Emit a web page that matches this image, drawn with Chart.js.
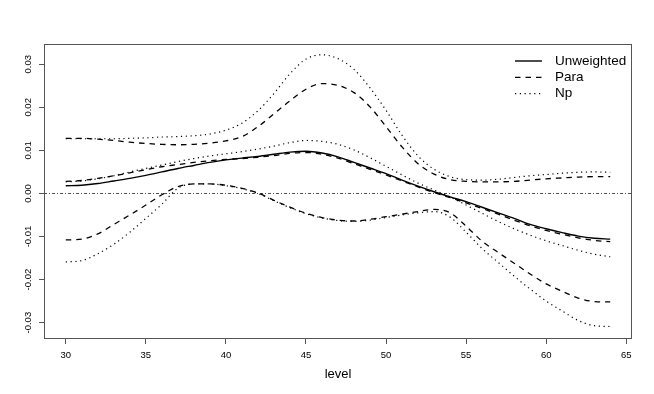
<!DOCTYPE html>
<html lang="en">
<head>
  <meta charset="UTF-8">
  <title>level</title>
  <script src="https://cdn.jsdelivr.net/npm/chart.js"></script>
  <style>
    body { margin: 0; background: #fff; }
  </style>
</head>
<body>
  <canvas id="levelChart" width="654" height="394"></canvas>

  <script>
    const levels = [30, 31, 32, 33, 34, 35, 36, 37, 38, 39, 40, 41, 42, 43, 44, 45, 46,
      47, 48, 49, 50, 51, 52, 53, 54, 55, 56, 57, 58, 59, 60, 61, 62, 63, 64];

    const unweighted = [0.0018, 0.0019, 0.0023, 0.0029, 0.0035, 0.0042, 0.0050, 0.0058, 0.0065, 0.0072,
      0.0078, 0.0082, 0.0086, 0.0091, 0.0096, 0.0098, 0.0094, 0.0085, 0.0072, 0.0059,
      0.0046, 0.0031, 0.0017, 0.0004, -0.0008, -0.0019, -0.0032, -0.0045, -0.0058, -0.0072,
      -0.0082, -0.0091, -0.0099, -0.0104, -0.0106];

    const paraMid = [0.0028, 0.0030, 0.0035, 0.0041, 0.0048, 0.0055, 0.0062, 0.0067, 0.0072, 0.0076,
      0.0079, 0.0081, 0.0084, 0.0088, 0.0093, 0.0095, 0.0091, 0.0082, 0.0069, 0.0056,
      0.0043, 0.0029, 0.0015, 0.0002, -0.0010, -0.0022, -0.0035, -0.0048, -0.0062, -0.0075,
      -0.0086, -0.0095, -0.0103, -0.0109, -0.0112];
    const paraUpper = [0.0128, 0.0128, 0.0126, 0.0123, 0.0119, 0.0116, 0.0114, 0.0113, 0.0114, 0.0117,
      0.0122, 0.0132, 0.0155, 0.0185, 0.0215, 0.0242, 0.0255, 0.0251, 0.0234, 0.0201,
      0.0155, 0.0108, 0.0069, 0.0045, 0.0032, 0.0028, 0.0027, 0.0027, 0.0028, 0.0031,
      0.0034, 0.0036, 0.0038, 0.0039, 0.0039];
    const paraLower = [-0.0108, -0.0106, -0.0094, -0.0072, -0.0050, -0.0027, -0.0003, 0.0016, 0.0022, 0.0022,
      0.0019, 0.0012, 0.0001, -0.0016, -0.0032, -0.0046, -0.0056, -0.0062, -0.0064, -0.0060,
      -0.0054, -0.0048, -0.0042, -0.0037, -0.0045, -0.0076, -0.0111, -0.0137, -0.0162, -0.0187,
      -0.0210, -0.0227, -0.0243, -0.0251, -0.0252];

    const npMid = [0.0027, 0.0029, 0.0034, 0.0041, 0.0050, 0.0058, 0.0066, 0.0074, 0.0081, 0.0087,
      0.0092, 0.0097, 0.0103, 0.0110, 0.0118, 0.0123, 0.0121, 0.0114, 0.0101, 0.0083,
      0.0063, 0.0043, 0.0024, 0.0008, -0.0008, -0.0027, -0.0046, -0.0065, -0.0082, -0.0097,
      -0.0110, -0.0121, -0.0132, -0.0141, -0.0147];
    const npUpper = [0.0127, 0.0127, 0.0127, 0.0127, 0.0128, 0.0129, 0.0131, 0.0132, 0.0134, 0.0138,
      0.0147, 0.0163, 0.0192, 0.0232, 0.0278, 0.0312, 0.0322, 0.0313, 0.0288, 0.0245,
      0.0193, 0.0135, 0.0087, 0.0056, 0.0039, 0.0032, 0.0031, 0.0033, 0.0037, 0.0041,
      0.0044, 0.0047, 0.0049, 0.0050, 0.0049];
    const npLower = [-0.0159, -0.0156, -0.0140, -0.0118, -0.0090, -0.0058, -0.0025, 0.0012, 0.0022, 0.0022,
      0.0018, 0.0011, 0.0000, -0.0017, -0.0033, -0.0047, -0.0057, -0.0063, -0.0065, -0.0062,
      -0.0056, -0.0050, -0.0045, -0.0042, -0.0055, -0.0090, -0.0128, -0.0160, -0.0192, -0.0222,
      -0.0250, -0.0273, -0.0295, -0.0307, -0.0309];

    const xTicks = [30, 35, 40, 45, 50, 55, 60, 65];
    const yTicks = [-0.03, -0.02, -0.01, 0.00, 0.01, 0.02, 0.03];
    const seriesNames = ['Unweighted', 'Para', 'Np'];
    const refLevel = 0;

    const FONT = '"Liberation Sans", Arial, Helvetica, sans-serif';
    const DASH = { Unweighted: [], Para: [5.5, 5], Np: [1.2, 3.6] };
    const WIDTH = { Unweighted: 1.4, Para: 1.3, Np: 1.2 };

    function line(name, values) {
      return {
        label: name,
        data: levels.map((x, i) => ({ x: x, y: values[i] })),
        borderColor: '#000',
        borderWidth: WIDTH[name],
        borderDash: DASH[name],
        borderCapStyle: 'butt',
        pointRadius: 0,
        fill: false,
        tension: 0.4,
        cubicInterpolationMode: 'monotone'
      };
    }

    // box, zero reference line and the legend, drawn the way R's base graphics does
    const rStyle = {
      id: 'rStyle',
      beforeDatasetsDraw(chart) {
        const { ctx, chartArea: a, scales } = chart;
        const y = Math.round(scales.y.getPixelForValue(refLevel)) + 0.5;
        ctx.save();
        ctx.strokeStyle = '#000';
        ctx.lineWidth = 0.7;
        ctx.setLineDash([3, 2, 1, 2]);
        ctx.beginPath();
        ctx.moveTo(a.left, y);
        ctx.lineTo(a.right, y);
        ctx.stroke();
        ctx.restore();
      },
      afterDraw(chart) {
        const { ctx, chartArea: a } = chart;
        ctx.save();
        ctx.strokeStyle = '#555';
        ctx.lineWidth = 1;
        ctx.strokeRect(a.left + 0.5, a.top + 0.5, a.right - a.left - 1, a.bottom - a.top - 1);

        // legend
        ctx.font = '13.5px ' + FONT;
        ctx.fillStyle = '#000';
        ctx.textBaseline = 'middle';
        seriesNames.forEach((name, i) => {
          const ly = 61 + i * 16.3;
          ctx.strokeStyle = '#000';
          ctx.lineWidth = WIDTH[name];
          ctx.setLineDash(DASH[name]);
          ctx.beginPath();
          ctx.moveTo(515, ly);
          ctx.lineTo(542, ly);
          ctx.stroke();
          ctx.setLineDash([]);
          ctx.fillText(name, 555, ly);
        });
        ctx.restore();
      }
    };

    new Chart(document.getElementById('levelChart'), {
      type: 'line',
      data: {
        datasets: [
          line('Unweighted', unweighted),
          line('Para', paraMid),
          line('Para', paraUpper),
          line('Para', paraLower),
          line('Np', npMid),
          line('Np', npUpper),
          line('Np', npLower)
        ]
      },
      options: {
        responsive: false,
        animation: false,
        layout: { padding: { top: 44, right: 22, left: 0, bottom: 0 } },
        plugins: { legend: { display: false }, tooltip: { enabled: false } },
        scales: {
          x: {
            type: 'linear',
            min: 28.64,
            max: 65.36,
            afterBuildTicks: s => { s.ticks = xTicks.map(v => ({ value: v })); },
            afterFit: s => { s.height = 55; },
            grid: { drawOnChartArea: false, tickLength: 5, color: '#555' },
            border: { display: false },
            ticks: {
              autoSkip: false, maxRotation: 0, padding: 6, color: '#000',
              font: { family: FONT, size: 9.5 },
              callback: v => String(v)
            },
            title: {
              display: true, text: 'level', color: '#000',
              font: { family: FONT, size: 13 },
              padding: { top: 0, bottom: 12 }
            }
          },
          y: {
            type: 'linear',
            min: -0.0338,
            max: 0.0347,
            afterBuildTicks: s => { s.ticks = yTicks.map(v => ({ value: v })); },
            afterFit: s => { s.width = 44; },
            grid: { drawOnChartArea: false, tickLength: 5, color: '#555' },
            border: { display: false },
            ticks: {
              minRotation: 90, maxRotation: 90, crossAlign: 'center', padding: 0,
              color: '#000', font: { family: FONT, size: 9.5 },
              callback: v => v.toFixed(2)
            }
          }
        }
      },
      plugins: [rStyle]
    });
  </script>
</body>
</html>
